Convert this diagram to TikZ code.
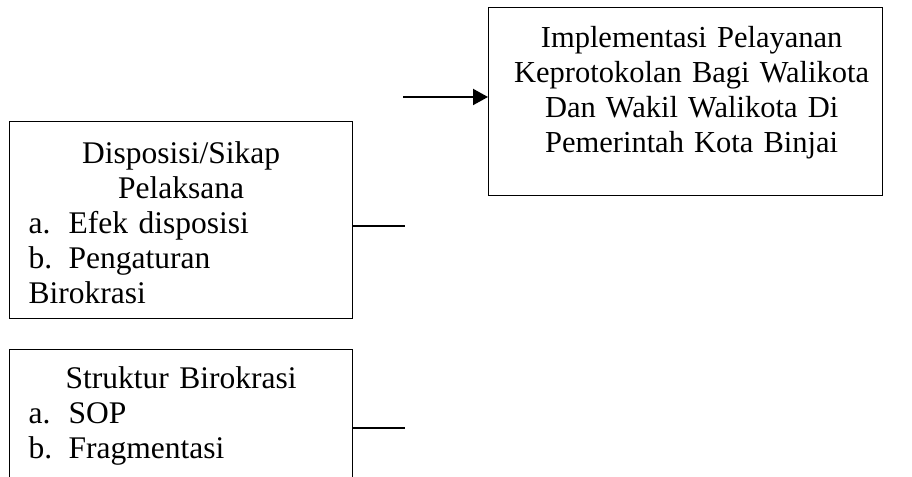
\documentclass[tikz,border=0pt]{standalone}
\usepackage{fontspec}
\setmainfont{Liberation Serif}
\usetikzlibrary{positioning,arrows.meta}

\tikzset{
  box/.style={draw, line width=0.5pt, anchor=north west,
    font=\fontsize{12.6}{14}\selectfont},
  link/.style={line width=0.8pt},
}
\newcommand{\butir}[1]{\makebox[16pt][l]{#1}}

\begin{document}
\begin{tikzpicture}[x=0.4pt,y=-0.4pt]
  \useasboundingbox (0,0) rectangle (912,477);
  \clip (0,0) rectangle (912,477);

  % Variabel implementasi
  \node[box, inner xsep=7.6pt, minimum width=137.2pt, text width=122pt, minimum height=78.8pt] (sikap) at (9,121)
    {\centering\rule{0pt}{10.6pt}Disposisi/Sikap\\ Pelaksana\par
     \raggedright\butir{a.}Efek disposisi\\ \butir{b.}Pengaturan\\ Birokrasi};
  \node[box, inner xsep=7.6pt, minimum width=137.2pt, text width=122pt, minimum height=53pt] (struktur) at (9,349)
    {\centering Struktur Birokrasi\par
     \raggedright\butir{a.}SOP\\ \butir{b.}Fragmentasi};

  % Hasil
  \node[box, font=\fontsize{12.2}{14}\selectfont, inner xsep=2pt, minimum width=157.6pt, text width=153.6pt, minimum height=75.2pt] (hasil) at (488,7)
    {\centering\leftskip=4.8pt plus 1fil
     Implementasi Pelayanan\\ Keprotokolan Bagi Walikota\\ Dan Wakil Walikota Di\\
     Pemerintah Kota Binjai\rule[-9.8pt]{0pt}{9.8pt}\par};

  % Garis penghubung
  \coordinate (ujung0) at (403,97);
  \coordinate (ujung1) at (405,226);
  \coordinate (ujung2) at (405,428);
  \draw[link, -{Triangle[length=6pt,width=6.4pt]}] (ujung0) -- (ujung0 -| hasil.west);
  \draw[link] (ujung1 -| sikap.east) -- (ujung1);
  \draw[link] (ujung2 -| struktur.east) -- (ujung2);
\end{tikzpicture}
\end{document}
